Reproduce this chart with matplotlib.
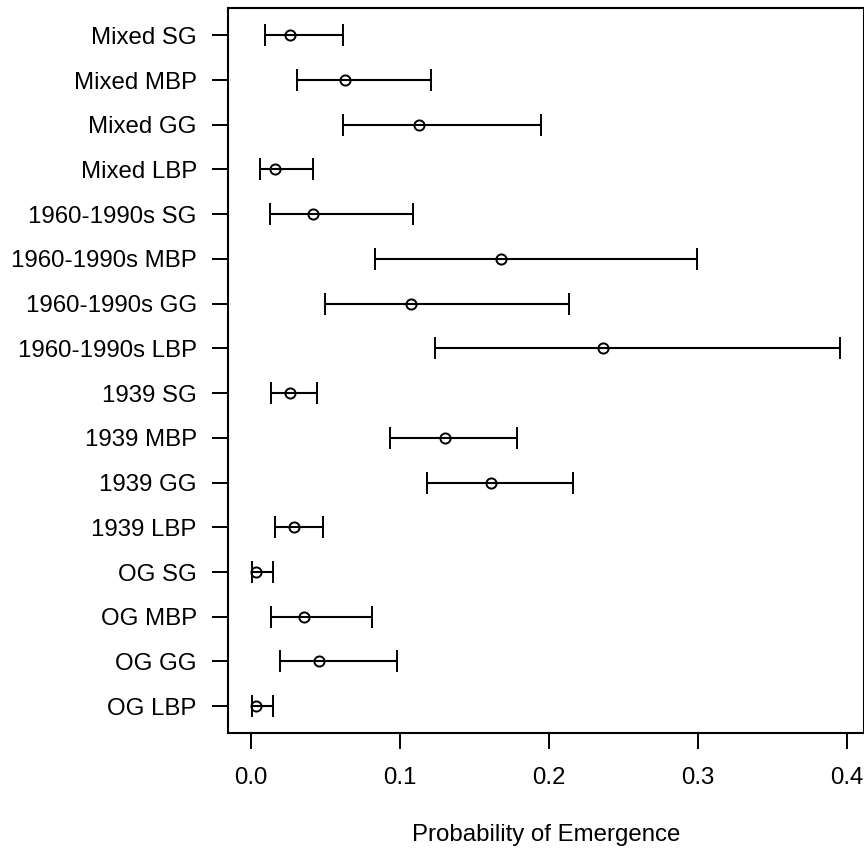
import numpy as np
import matplotlib.pyplot as plt

plt.rcParams['font.family'] = ['Liberation Sans', 'DejaVu Sans']

# groups, top to bottom
labels = ['Mixed SG', 'Mixed MBP', 'Mixed GG', 'Mixed LBP',
          '1960-1990s SG', '1960-1990s MBP', '1960-1990s GG', '1960-1990s LBP',
          '1939 SG', '1939 MBP', '1939 GG', '1939 LBP',
          'OG SG', 'OG MBP', 'OG GG', 'OG LBP']
est = [0.0257, 0.063, 0.1128, 0.0161,
       0.0418, 0.1677, 0.1072, 0.2361,
       0.0257, 0.1302, 0.1613, 0.0286,
       0.0034, 0.0351, 0.0458, 0.003]
lower = [0.0094, 0.031, 0.0619, 0.0056,
         0.0123, 0.0834, 0.0497, 0.1235,
         0.0134, 0.093, 0.1184, 0.0161,
         0.0002, 0.0134, 0.019, 0.0002]
upper = [0.0619, 0.1206, 0.1946, 0.0418,
         0.1088, 0.2994, 0.2134, 0.3959,
         0.0444, 0.1787, 0.216, 0.0485,
         0.0147, 0.0809, 0.098, 0.0147]

est = np.array(est)
lower = np.array(lower)
upper = np.array(upper)
y = np.arange(len(labels), 0, -1)

fig = plt.figure(figsize=(8.64, 8.49), dpi=100)
ax = fig.add_axes([0.2639, 0.1366, 0.7361, 0.8534])

ax.errorbar(est, y, xerr=[est - lower, upper - est], fmt='o', color='black',
            ecolor='black', elinewidth=1.5, capsize=7.8, capthick=1.5,
            markersize=7.3, markerfacecolor='none', markeredgewidth=1.4)

xmin, xmax = lower.min(), upper.max()
pad = 0.04 * (xmax - xmin)
ax.set_xlim(xmin - pad, xmax + pad)
ax.set_ylim(1 - 0.6, len(labels) + 0.6)

ax.set_yticks(y)
ax.set_yticklabels(labels)
ax.set_xticks([0.0, 0.1, 0.2, 0.3, 0.4])
ax.set_xticklabels(['0.0', '0.1', '0.2', '0.3', '0.4'])
ax.tick_params(axis='both', labelsize=17.3, length=11.5, width=1.4, color='black')
ax.tick_params(axis='y', pad=11)
ax.tick_params(axis='x', pad=13)
for s in ax.spines.values():
    s.set_linewidth(1.5)

ax.set_xlabel('Probability of Emergence', fontsize=17.3, labelpad=25)

fig.savefig('out.png', dpi=100)
